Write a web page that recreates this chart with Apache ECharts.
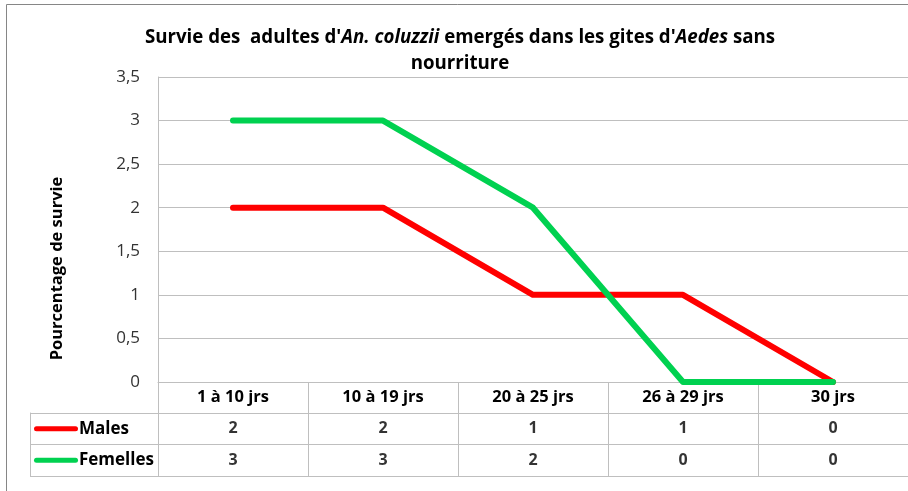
<!DOCTYPE html>
<html>
<head>
<meta charset="utf-8">
<script src="https://cdn.jsdelivr.net/npm/echarts@6/dist/echarts.min.js"></script>
<style>
  html, body { margin: 0; padding: 0; background: #fff; }
  #chart { width: 908px; height: 491px; }
</style>
</head>
<body>
<div id="chart"></div>
<script>
// données
var periodes = ['1 à 10 jrs', '10 à 19 jrs', '20 à 25 jrs', '26 à 29 jrs', '30 jrs'];
var males = [2, 2, 1, 1, 0];
var femelles = [3, 3, 2, 0, 0];
var lignes = ['Males', 'Femelles'];
var couleurs = ['#FF0000', '#00D150'];

var police = '"Open Sans", Lato, sans-serif';
var gris = '#BFBFBF';

// cellules du tableau sous le graphique
var cellules = [];
[males, femelles].forEach(function (serie, r) {
  serie.forEach(function (v, i) {
    cellules.push([i, lignes[r], v]);
  });
});

var chart = echarts.init(document.getElementById('chart'));

chart.setOption({
  animation: false,
  backgroundColor: '#fff',
  title: {
    left: 455,
    top: 20,
    textAlign: 'center',
    text: "{b|Survie des  adultes d'}{i|An. coluzzii}{b| emergés dans les gites d'}{i|Aedes}{b| sans}\n{b|nourriture}",
    textStyle: {
      rich: {
        b: { fontFamily: police, fontSize: 18.7, fontWeight: 'bold', color: '#000', lineHeight: 26 },
        i: { fontFamily: police, fontSize: 18.7, fontWeight: 'bold', fontStyle: 'italic', color: '#000', lineHeight: 26 }
      }
    }
  },
  graphic: [{
    type: 'rect',
    shape: { x: 6.5, y: 4.5, width: 1000, height: 1000 },
    style: { fill: 'none', stroke: '#868686', lineWidth: 1 },
    silent: true
  }],
  grid: [
    { left: 158, width: 760, top: 77, height: 305 },
    { left: 158, width: 760, top: 413, height: 63 }
  ],
  xAxis: [{
    gridIndex: 0,
    type: 'category',
    data: periodes,
    boundaryGap: true,
    axisLine: { lineStyle: { color: gris, width: 1 } },
    axisTick: { show: true, length: 31, interval: 0, lineStyle: { color: gris } },
    axisLabel: { interval: 0, margin: 7, fontFamily: police, fontSize: 16.5, fontWeight: 'bold', color: '#000' }
  }, {
    gridIndex: 1,
    type: 'category',
    data: periodes,
    boundaryGap: true,
    axisLine: { lineStyle: { color: gris } },
    axisTick: { show: false },
    axisLabel: { show: false },
    splitLine: { show: true, interval: 0, lineStyle: { color: gris } }
  }],
  yAxis: [{
    gridIndex: 0,
    type: 'value',
    min: 0,
    max: 3.5,
    interval: 0.5,
    name: 'Pourcentage de survie',
    nameLocation: 'middle',
    nameGap: 92,
    nameRotate: 90,
    nameTextStyle: { fontFamily: police, fontSize: 16.5, fontWeight: 'bold', color: '#000', padding: [0, 78, 0, 0] },
    axisLine: { show: true, lineStyle: { color: gris } },
    axisTick: { show: false },
    axisLabel: {
      margin: 18,
      fontFamily: police,
      fontSize: 17,
      color: '#333',
      formatter: function (v) { return String(v).replace('.', ','); }
    },
    splitLine: { lineStyle: { color: gris } }
  }, {
    gridIndex: 1,
    type: 'category',
    data: lignes,
    inverse: true,
    axisLine: { show: true, lineStyle: { color: gris } },
    axisTick: { show: true, length: 128, lineStyle: { color: gris } },
    axisLabel: {
      align: 'left',
      margin: 124,
      formatter: function (v, i) { return '{l' + i + '|}{t|' + v + '}'; },
      rich: {
        l0: { backgroundColor: couleurs[0], width: 44, height: 5, borderRadius: 3 },
        l1: { backgroundColor: couleurs[1], width: 44, height: 5, borderRadius: 3 },
        t: { fontFamily: police, fontSize: 17, fontWeight: 'bold', color: '#000', padding: [0, 0, 0, 1] }
      }
    },
    splitLine: { show: true, lineStyle: { color: gris } }
  }, {
    gridIndex: 1,
    type: 'category',
    data: lignes,
    inverse: true,
    position: 'left',
    offset: 128,
    axisLine: { show: true, lineStyle: { color: gris } },
    axisTick: { show: false },
    axisLabel: { show: false }
  }],
  series: [{
    name: 'Males',
    type: 'line',
    xAxisIndex: 0,
    yAxisIndex: 0,
    data: males,
    symbol: 'none',
    color: couleurs[0],
    lineStyle: { width: 6, color: couleurs[0], cap: 'round', join: 'round' }
  }, {
    name: 'Femelles',
    type: 'line',
    xAxisIndex: 0,
    yAxisIndex: 0,
    data: femelles,
    symbol: 'none',
    color: couleurs[1],
    lineStyle: { width: 6, color: couleurs[1], cap: 'round', join: 'round' }
  }, {
    type: 'scatter',
    xAxisIndex: 1,
    yAxisIndex: 1,
    data: cellules,
    symbolSize: 1,
    itemStyle: { color: 'rgba(0,0,0,0)' },
    label: {
      show: true,
      position: 'inside',
      formatter: function (p) { return p.value[2]; },
      fontFamily: police,
      fontSize: 16,
      fontWeight: 'bold',
      color: '#000'
    }
  }]
});
</script>
</body>
</html>
